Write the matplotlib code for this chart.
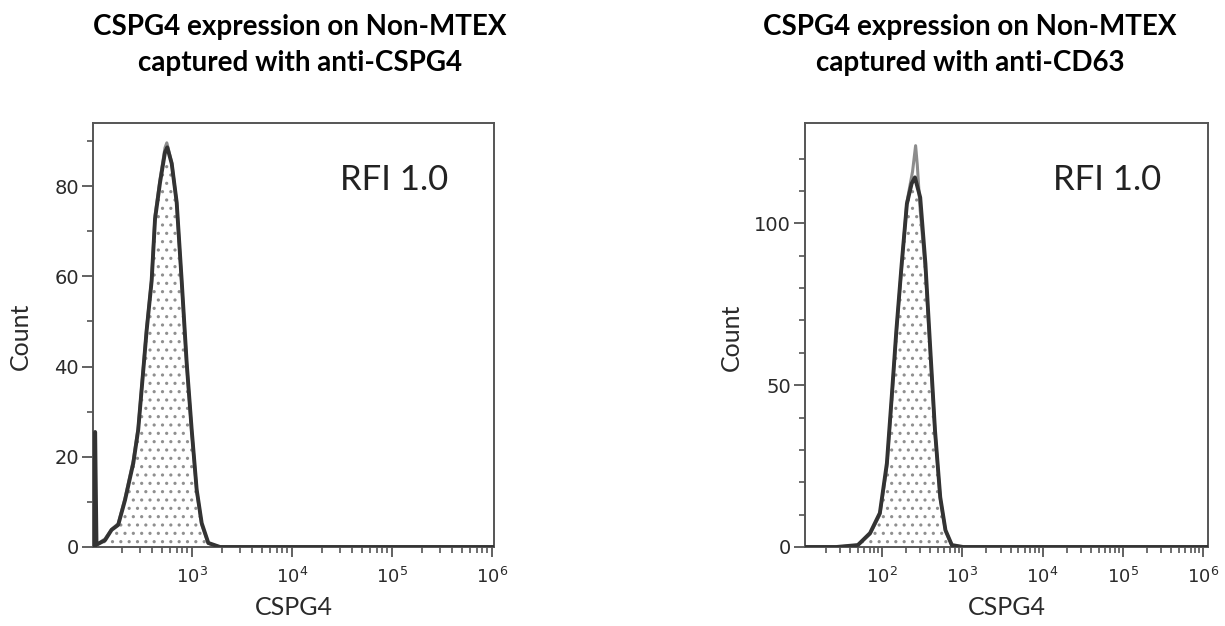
import matplotlib
matplotlib.use("Agg")
import matplotlib.pyplot as plt
import numpy as np
from matplotlib.ticker import FixedLocator, NullFormatter

plt.rcParams['hatch.linewidth'] = 1.1
plt.rcParams['mathtext.fontset'] = 'custom'
plt.rcParams['mathtext.rm'] = 'Liberation Sans Narrow'

# anti-CSPG4 capture: CSPG4 intensity vs event count
cspg4_x = [60, 107, 107.5, 111, 135, 157, 183, 214, 259, 290, 314, 352, 395,
           427, 479, 537, 566, 627, 703, 789, 885, 993, 1114, 1250, 1456,
           1905, 2e6]
cspg4_count = [0, 0, 25.5, 0.5, 1.5, 3.8, 4.9, 10.4, 18.6, 26, 35, 48, 59,
               72.7, 80.8, 87.5, 88.6, 85, 76.4, 59, 40.8, 26, 12.7, 5.3, 0.9,
               0, 0]
cspg4_ctrl_x = [60, 111, 135, 157, 183, 214, 259, 290, 314, 352,
                395, 427, 479, 537, 560, 627, 703, 789, 885, 993, 1114, 1250,
                1456, 1905, 2e6]
cspg4_ctrl_count = [0, 0.5, 1.8, 3.9, 5.2, 10.8, 19.2, 26.5, 35.5,
                    48.5, 59.5, 73.5, 81.5, 88.5, 89.6, 85.2, 76.2, 58.5, 40.5,
                    25.6, 12.5, 5.0, 0.8, 0, 0]

# anti-CD63 capture
cd63_x = [5, 27, 50, 71, 94, 115, 132, 151, 176, 204, 234, 257, 299, 347,
          398, 457, 531, 617, 741, 1023, 2e6]
cd63_count = [0, 0, 0.6, 4.3, 10.5, 25.9, 46.3, 67, 87.6, 106, 112.3, 114.2,
              108, 87.6, 61.7, 36, 15.4, 5.2, 0.6, 0, 0]
cd63_ctrl_x = [5, 27, 50, 71, 94, 115, 132, 151, 176, 204, 240, 262, 275,
               299, 347, 398, 457, 531, 617, 741, 1023, 2e6]
cd63_ctrl_count = [0, 0, 0.5, 4.0, 10.0, 25.0, 45.5, 66.5, 87.0, 106.5,
                   116, 124, 118, 104, 85.5, 60.5, 35.5, 15.0, 5.0, 0.5, 0, 0]

titles = ["CSPG4 expression on Non-MTEX\ncaptured with anti-CSPG4",
          "CSPG4 expression on Non-MTEX\ncaptured with anti-CD63"]
rfi_text = ["RFI 1.0", "RFI 1.0"]

left_xticks = [1e3, 1e4, 1e5, 1e6]
left_xlabels = [r"$\mathregular{10^{3}}$", r"$\mathregular{10^{4}}$",
                r"$\mathregular{10^{5}}$", r"$\mathregular{10^{6}}$"]
right_xticks = [1e2, 1e3, 1e4, 1e5, 1e6]
right_xlabels = [r"$\mathregular{10^{2}}$"] + left_xlabels

left_yticks = [0, 20, 40, 60, 80]
left_yminor = [10, 30, 50, 70, 90]
right_yticks = [0, 50, 100]
right_yminor = [10, 20, 30, 40, 60, 70, 80, 90, 110, 120]

fig = plt.figure(figsize=(12.25, 6.26), dpi=100)
ax1 = fig.add_axes([0.0759, 0.1262, 0.3274, 0.6773])
ax2 = fig.add_axes([0.6571, 0.1262, 0.3290, 0.6773])

spine_col = '#555555'
text_col = '#2a2a2a'

panels = [
    (ax1, cspg4_x, cspg4_count, cspg4_ctrl_x, cspg4_ctrl_count,
     (10**2.01, 10**6.02), 94, left_xticks, left_xlabels, left_yticks, left_yminor),
    (ax2, cd63_x, cd63_count, cd63_ctrl_x, cd63_ctrl_count,
     (10**1.04, 10**6.06), 131, right_xticks, right_xlabels, right_yticks, right_yminor),
]

for i, (ax, sx, sy, cx, cy, xlim, ytop, xt, xl, yt, ym) in enumerate(panels):
    ax.set_xscale('log')
    ax.fill_between(sx, sy, 0, facecolor='white', edgecolor='#8f8f8f',
                    hatch='..', linewidth=0, zorder=1)
    ax.plot(cx, cy, color='#8c8c8c', linewidth=2.2, zorder=2)
    ax.plot(sx, sy, color='#333333', linewidth=2.8, zorder=3)
    ax.set_xlim(*xlim)
    ax.set_ylim(0, ytop)

    ax.xaxis.set_major_locator(FixedLocator(xt))
    ax.set_xticklabels(xl)
    minors = [m * 10**e for e in range(1, 6) for m in range(2, 10)]
    ax.xaxis.set_minor_locator(FixedLocator(minors))
    ax.xaxis.set_minor_formatter(NullFormatter())
    ax.set_yticks(yt)
    ax.yaxis.set_minor_locator(FixedLocator(ym))

    ax.tick_params(axis='x', which='major', direction='out', length=7,
                   width=1.3, color=spine_col, pad=7, labelsize=13,
                   labelcolor=text_col)
    ax.tick_params(axis='x', which='minor', direction='out', length=4,
                   width=1.2, color=spine_col)
    ax.tick_params(axis='y', which='major', direction='out', length=8,
                   width=1.3, color=spine_col, pad=2, labelsize=14,
                   labelcolor=text_col, labelfontfamily='Liberation Sans Narrow')
    ax.tick_params(axis='y', which='minor', direction='out', length=4,
                   width=1.2, color=spine_col)
    for sp in ax.spines.values():
        sp.set_color(spine_col)
        sp.set_linewidth(1.4)

    ax.text(0.615, 0.865, rfi_text[i], transform=ax.transAxes, fontsize=25,
            family='Lato', color='#222222', ha='left', va='center')

ax1.set_xlabel("CSPG4", fontsize=18, family='Lato', color=text_col, labelpad=7)
ax2.set_xlabel("CSPG4", fontsize=18, family='Lato', color=text_col, labelpad=7)
fig.text(20 / 1225, 1 - 336 / 626, "Count", rotation=90, fontsize=18,
         family='Lato', color=text_col, ha='center', va='center')
fig.text(731 / 1225, 1 - 337 / 626, "Count", rotation=90, fontsize=18,
         family='Lato', color=text_col, ha='center', va='center')

fig.text(300 / 1225, 1 - 45 / 626, titles[0], fontsize=20, family='Lato',
         weight='bold', ha='center', va='center', linespacing=1.45)
fig.text(970 / 1225, 1 - 45 / 626, titles[1], fontsize=20, family='Lato',
         weight='bold', ha='center', va='center', linespacing=1.45)

fig.savefig("out.png", dpi=100)
